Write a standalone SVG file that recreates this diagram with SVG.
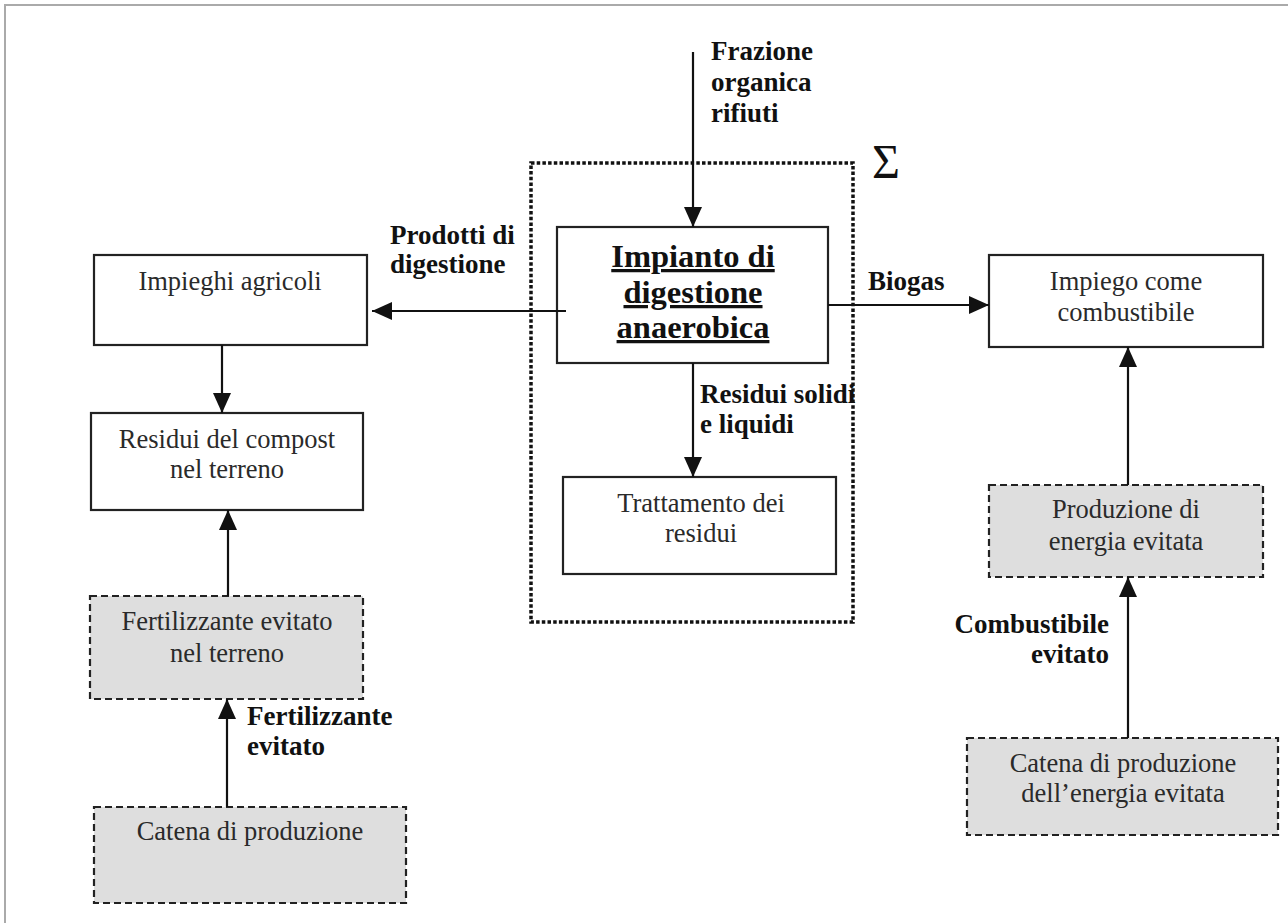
<svg xmlns="http://www.w3.org/2000/svg" width="1288" height="923" viewBox="0 0 1288 923">
<style>
.box{fill:#fff;stroke:#222;stroke-width:2.2}
.dbox{fill:#dedede;stroke:#222;stroke-width:2.2;stroke-dasharray:7 4}
.sys{fill:none;stroke:#111;stroke-width:3.5;stroke-dasharray:3.5 2.2}
.t{font-family:"Liberation Serif",serif;font-size:26.5px;fill:#2a2a2a;text-anchor:middle}
.b{font-family:"Liberation Serif",serif;font-size:27px;font-weight:bold;fill:#111}
.title{font-family:"Liberation Serif",serif;font-size:32.5px;font-weight:bold;fill:#111;text-anchor:middle;text-decoration:underline}
.c{stroke:#111;stroke-width:2.2;fill:none;marker-end:url(#ah)}
</style>
<defs>
<marker id="ah" markerUnits="userSpaceOnUse" markerWidth="20" markerHeight="18" refX="20" refY="9" orient="auto">
<path d="M0,0 L20,9 L0,18 z" fill="#111"/>
</marker>
</defs>
<rect width="1288" height="923" fill="#fff"/>
<path d="M5,923 V5 H1288" fill="none" stroke="#aaa" stroke-width="2"/>

<g id="system">
<rect class="sys" x="531" y="163" width="322" height="459"/>
<text x="872" y="178" font-family="Liberation Serif,serif" font-size="48" fill="#111">Σ</text>
</g>

<g id="impianto">
<rect class="box" x="557" y="227" width="271" height="136"/>
<text class="title" x="693" y="267">Impianto di</text>
<text class="title" x="693" y="303">digestione</text>
<text class="title" x="693" y="338">anaerobica</text>
</g>

<g id="trattamento">
<rect class="box" x="563" y="477" width="273" height="97"/>
<text class="t" x="701" y="512">Trattamento dei</text>
<text class="t" x="701" y="542">residui</text>
</g>

<g id="impieghi">
<rect class="box" x="94" y="255" width="273" height="90"/>
<text class="t" x="230" y="290">Impieghi agricoli</text>
</g>

<g id="residui">
<rect class="box" x="91" y="413" width="272" height="97"/>
<text class="t" x="227" y="448">Residui del compost</text>
<text class="t" x="227" y="478">nel terreno</text>
</g>

<g id="fertilizzante">
<rect class="dbox" x="90" y="596" width="273" height="103"/>
<text class="t" x="227" y="630">Fertilizzante evitato</text>
<text class="t" x="227" y="662">nel terreno</text>
</g>

<g id="catena">
<rect class="dbox" x="94" y="807" width="312" height="96"/>
<text class="t" x="250" y="840">Catena di produzione</text>
</g>

<g id="impiego">
<rect class="box" x="989" y="255" width="274" height="92"/>
<text class="t" x="1126" y="290">Impiego come</text>
<text class="t" x="1126" y="321">combustibile</text>
</g>

<g id="produzione">
<rect class="dbox" x="989" y="485" width="274" height="92"/>
<text class="t" x="1126" y="518">Produzione di</text>
<text class="t" x="1126" y="550">energia evitata</text>
</g>

<g id="catena-energia">
<rect class="dbox" x="967" y="738" width="311" height="97"/>
<text class="t" x="1123" y="772">Catena di produzione</text>
<text class="t" x="1123" y="802">dell’energia evitata</text>
</g>

<g id="connectors">
<line class="c" x1="693" y1="52" x2="693" y2="227"/>
<line class="c" x1="566" y1="311" x2="372" y2="311"/>
<line class="c" x1="828" y1="305" x2="989" y2="305"/>
<line class="c" x1="693" y1="363" x2="693" y2="477"/>
<line class="c" x1="222" y1="345" x2="222" y2="413"/>
<line class="c" x1="228" y1="596" x2="228" y2="510"/>
<line class="c" x1="227" y1="807" x2="227" y2="699"/>
<line class="c" x1="1128" y1="485" x2="1128" y2="347"/>
<line class="c" x1="1128" y1="738" x2="1128" y2="577"/>
<text class="b" x="711" y="60">Frazione</text>
<text class="b" x="711" y="91">organica</text>
<text class="b" x="711" y="122">rifiuti</text>
<text class="b" x="390" y="244">Prodotti di</text>
<text class="b" x="390" y="273">digestione</text>
<text class="b" x="868" y="290">Biogas</text>
<text class="b" x="700" y="403">Residui solidi</text>
<text class="b" x="700" y="433">e liquidi</text>
<text class="b" x="247" y="725">Fertilizzante</text>
<text class="b" x="247" y="755">evitato</text>
<text class="b" x="1109" y="633" text-anchor="end">Combustibile</text>
<text class="b" x="1109" y="663" text-anchor="end">evitato</text>
</g>
</svg>
